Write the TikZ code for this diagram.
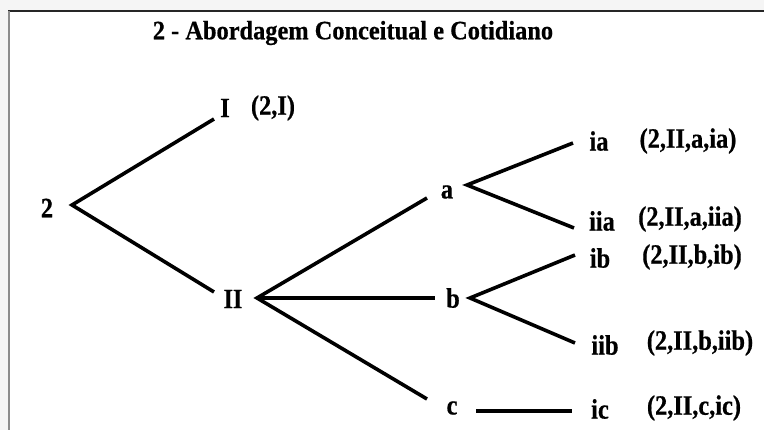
\documentclass[tikz,border=0pt]{standalone}
\usepackage{fontspec}
\setmainfont{Liberation Serif}
\newfontfamily\lblfont[FakeStretch=0.87,BoldFeatures={FakeBold=0.6}]{Liberation Serif}
\newfontfamily\ttlfont[FakeStretch=0.92,BoldFeatures={FakeBold=0.6}]{Liberation Serif}
\usetikzlibrary{calc}
\begin{document}
\begin{tikzpicture}[x=1pt,y=-1pt,
  lbl/.style={inner sep=0pt,font=\lblfont\fontsize{28}{32}\selectfont\bfseries},
  ttl/.style={inner sep=0pt,font=\ttlfont\fontsize{26.5}{30}\selectfont\bfseries},
  branch/.style={line width=3.6pt,line join=miter,black}]
\useasboundingbox (0,0) rectangle (764,430);
\fill[gray!8] (0,0) rectangle (764,430);
\fill[white] (9,11) rectangle (764,430);
\draw[line width=1.6pt,black!85] (8,11) -- (764,11);
\draw[line width=2pt,gray!90] (9,11) -- (9,430);
% title
\node[ttl] (title) at (353,33) {2 - Abordagem Conceitual e Cotidiano};
% nodes
\node[lbl] (n2) at (47,208) {2};
\node[lbl] (nI) at (225,108) {I};
\node[lbl] (tI) at (273,108) {(2,I)};
\node[lbl] (nII) at (233,299) {II};
\node[lbl] (na) at (447,192) {a};
\node[lbl] (nb) at (453,298) {b};
\node[lbl] (nc) at (452,408) {c};
\node[lbl] (nia) at (599,141) {ia};
\node[lbl] (tia) at (688,141) {(2,II,a,ia)};
\node[lbl] (niia) at (602,221) {iia};
\node[lbl] (tiia) at (690,219) {(2,II,a,iia)};
\node[lbl] (nib) at (600,258) {ib};
\node[lbl] (tib) at (692,257) {(2,II,b,ib)};
\node[lbl] (niib) at (605,345) {iib};
\node[lbl] (tiib) at (700,343) {(2,II,b,iib)};
\node[lbl] (nic) at (600,409) {ic};
\node[lbl] (tic) at (694,408) {(2,II,c,ic)};
% connectors
\draw[branch] ($(nI)+(-11,11)$) -- ($(n2)+(25,-3)$) -- ($(nII)+(-19,-7)$);
\draw[branch] ($(na)+(-20,6)$) -- ($(nII)+(24,-1)$) -- ($(nc)+(-25,-9)$);
\draw[branch] ($(nII)+(24,-1)$) -- ($(nb)+(-18,0)$);
\draw[branch] ($(nia)+(-26,2)$) -- ($(na)+(20,-7)$) -- ($(niia)+(-28,7)$);
\draw[branch] ($(nib)+(-25,-3)$) -- ($(nb)+(17,0)$) -- ($(niib)+(-30,-2)$);
\draw[branch] ($(nc)+(24,3)$) -- ($(nic)+(-28,2)$);
\end{tikzpicture}
\end{document}
